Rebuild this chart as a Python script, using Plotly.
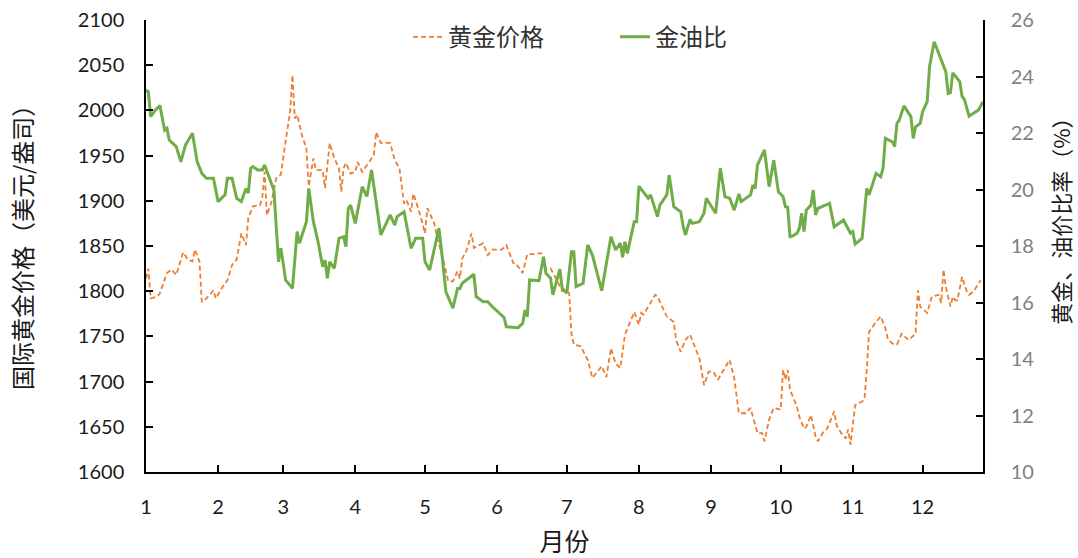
import plotly.graph_objects as go

# Gold spot price, USD per ounce
gold_dates = [
    "2022-01-01", "2022-01-02", "2022-01-03", "2022-01-06", "2022-01-07", "2022-01-10",
    "2022-01-12", "2022-01-14", "2022-01-17", "2022-01-19", "2022-01-21", "2022-01-22",
    "2022-01-24", "2022-01-25", "2022-01-27", "2022-01-30", "2022-01-31", "2022-02-03",
    "2022-02-05", "2022-02-07", "2022-02-09", "2022-02-11", "2022-02-13", "2022-02-14",
    "2022-02-16", "2022-02-19", "2022-02-20", "2022-02-21", "2022-02-22", "2022-02-24",
    "2022-02-26", "2022-02-28", "2022-03-02", "2022-03-04", "2022-03-05", "2022-03-06",
    "2022-03-07", "2022-03-09", "2022-03-11", "2022-03-12", "2022-03-14", "2022-03-15",
    "2022-03-18", "2022-03-19", "2022-03-21", "2022-03-23", "2022-03-25", "2022-03-26",
    "2022-03-27", "2022-03-28", "2022-03-30", "2022-04-01", "2022-04-02", "2022-04-04",
    "2022-04-07", "2022-04-09", "2022-04-10", "2022-04-12", "2022-04-16", "2022-04-18",
    "2022-04-20", "2022-04-22", "2022-04-23", "2022-04-25", "2022-04-26", "2022-04-29",
    "2022-05-01", "2022-05-02", "2022-05-05", "2022-05-06", "2022-05-09", "2022-05-11",
    "2022-05-13", "2022-05-15", "2022-05-16", "2022-05-17", "2022-05-19", "2022-05-21",
    "2022-05-22", "2022-05-26", "2022-05-28", "2022-05-30", "2022-06-03", "2022-06-05",
    "2022-06-08", "2022-06-09", "2022-06-12", "2022-06-14", "2022-06-17", "2022-06-20",
    "2022-06-22", "2022-06-24", "2022-06-27", "2022-06-29", "2022-06-30", "2022-07-02",
    "2022-07-03", "2022-07-04", "2022-07-07", "2022-07-10", "2022-07-12", "2022-07-14",
    "2022-07-16", "2022-07-18", "2022-07-20", "2022-07-22", "2022-07-24", "2022-07-26",
    "2022-07-28", "2022-07-30", "2022-08-01", "2022-08-02", "2022-08-03", "2022-08-06",
    "2022-08-08", "2022-08-09", "2022-08-13", "2022-08-16", "2022-08-17", "2022-08-19",
    "2022-08-21", "2022-08-23", "2022-08-25", "2022-08-27", "2022-08-29", "2022-08-31",
    "2022-09-02", "2022-09-04", "2022-09-06", "2022-09-09", "2022-09-11", "2022-09-13",
    "2022-09-16", "2022-09-18", "2022-09-21", "2022-09-23", "2022-09-24", "2022-09-26",
    "2022-09-28", "2022-10-01", "2022-10-02", "2022-10-03", "2022-10-04", "2022-10-05",
    "2022-10-08", "2022-10-09", "2022-10-11", "2022-10-12", "2022-10-14", "2022-10-16",
    "2022-10-17", "2022-10-19", "2022-10-21", "2022-10-24", "2022-10-25", "2022-10-27",
    "2022-10-29", "2022-10-30", "2022-10-31", "2022-11-02", "2022-11-05", "2022-11-06",
    "2022-11-07", "2022-11-08", "2022-11-11", "2022-11-13", "2022-11-15", "2022-11-16",
    "2022-11-18", "2022-11-20", "2022-11-22", "2022-11-24", "2022-11-25", "2022-11-28",
    "2022-11-29", "2022-11-30", "2022-12-03", "2022-12-05", "2022-12-08", "2022-12-09",
    "2022-12-10", "2022-12-11", "2022-12-13", "2022-12-14", "2022-12-15", "2022-12-16",
    "2022-12-18", "2022-12-20", "2022-12-21", "2022-12-23", "2022-12-26",
]
gold_price = [
    1814, 1825, 1792, 1794, 1798, 1820,
    1824, 1818, 1843, 1835, 1833, 1846,
    1833, 1788, 1792, 1801, 1792, 1805,
    1812, 1829, 1835, 1864, 1851, 1881,
    1894, 1895, 1903, 1932, 1884, 1899,
    1925, 1929, 1965, 1999, 2039, 1991,
    1995, 1973, 1958, 1916, 1947, 1934,
    1934, 1914, 1964, 1947, 1936, 1910,
    1936, 1942, 1930, 1932, 1943, 1932,
    1943, 1951, 1976, 1964, 1964, 1945,
    1936, 1897, 1901, 1888, 1908, 1884,
    1864, 1892, 1875, 1862, 1833, 1811,
    1811, 1822, 1814, 1836, 1846, 1864,
    1848, 1853, 1840, 1846, 1846, 1851,
    1831, 1831, 1820, 1841, 1841, 1842,
    1825, 1825, 1811, 1800, 1801, 1798,
    1753, 1741, 1739, 1724, 1704, 1711,
    1717, 1705, 1737, 1720, 1715, 1752,
    1765, 1777, 1763, 1776, 1774, 1788,
    1796, 1794, 1772, 1766, 1746, 1733,
    1746, 1752, 1739, 1726, 1696, 1711,
    1711, 1702, 1711, 1724, 1704, 1665,
    1665, 1671, 1643, 1643, 1634, 1658,
    1671, 1669, 1713, 1702, 1713, 1691,
    1672, 1661, 1648, 1650, 1663, 1639,
    1634, 1643, 1648, 1667, 1652, 1643,
    1637, 1647, 1630, 1674, 1678, 1680,
    1713, 1755, 1766, 1772, 1759, 1748,
    1742, 1741, 1753, 1748, 1746, 1753,
    1801, 1783, 1776, 1794, 1796, 1787,
    1824, 1805, 1783, 1794, 1790, 1790,
    1816, 1800, 1796, 1800, 1812,
]

# Gold-to-oil price ratio
ratio_dates = [
    "2022-01-01", "2022-01-02", "2022-01-03", "2022-01-05", "2022-01-07", "2022-01-09",
    "2022-01-10", "2022-01-11", "2022-01-14", "2022-01-16", "2022-01-18", "2022-01-21",
    "2022-01-23", "2022-01-25", "2022-01-27", "2022-01-30", "2022-02-01", "2022-02-04",
    "2022-02-05", "2022-02-07", "2022-02-09", "2022-02-11", "2022-02-13", "2022-02-14",
    "2022-02-15", "2022-02-16", "2022-02-18", "2022-02-20", "2022-02-21", "2022-02-23",
    "2022-02-25", "2022-02-27", "2022-02-28", "2022-03-01", "2022-03-02", "2022-03-05",
    "2022-03-07", "2022-03-08", "2022-03-11", "2022-03-12", "2022-03-14", "2022-03-16",
    "2022-03-18", "2022-03-19", "2022-03-20", "2022-03-21", "2022-03-23", "2022-03-25",
    "2022-03-27", "2022-03-28", "2022-03-29", "2022-03-30", "2022-04-01", "2022-04-04",
    "2022-04-06", "2022-04-08", "2022-04-10", "2022-04-12", "2022-04-16", "2022-04-18",
    "2022-04-19", "2022-04-22", "2022-04-25", "2022-04-27", "2022-04-30", "2022-05-01",
    "2022-05-03", "2022-05-07", "2022-05-08", "2022-05-10", "2022-05-13", "2022-05-15",
    "2022-05-16", "2022-05-17", "2022-05-22", "2022-05-23", "2022-05-26", "2022-05-28",
    "2022-05-30", "2022-06-04", "2022-06-05", "2022-06-10", "2022-06-12", "2022-06-13",
    "2022-06-14", "2022-06-15", "2022-06-19", "2022-06-21", "2022-06-22", "2022-06-24",
    "2022-06-25", "2022-06-28", "2022-06-29", "2022-07-01", "2022-07-03", "2022-07-04",
    "2022-07-05", "2022-07-08", "2022-07-10", "2022-07-12", "2022-07-16", "2022-07-20",
    "2022-07-22", "2022-07-24", "2022-07-25", "2022-07-26", "2022-07-27", "2022-07-30",
    "2022-07-31", "2022-08-01", "2022-08-05", "2022-08-06", "2022-08-09", "2022-08-10",
    "2022-08-13", "2022-08-14", "2022-08-16", "2022-08-19", "2022-08-20", "2022-08-21",
    "2022-08-23", "2022-08-24", "2022-08-27", "2022-08-29", "2022-08-30", "2022-09-03",
    "2022-09-05", "2022-09-07", "2022-09-09", "2022-09-11", "2022-09-13", "2022-09-14",
    "2022-09-18", "2022-09-19", "2022-09-20", "2022-09-21", "2022-09-24", "2022-09-26",
    "2022-09-28", "2022-09-30", "2022-10-02", "2022-10-03", "2022-10-04", "2022-10-05",
    "2022-10-06", "2022-10-08", "2022-10-09", "2022-10-10", "2022-10-11", "2022-10-12",
    "2022-10-14", "2022-10-15", "2022-10-16", "2022-10-17", "2022-10-22", "2022-10-24",
    "2022-10-28", "2022-10-31", "2022-11-01", "2022-11-02", "2022-11-05", "2022-11-07",
    "2022-11-08", "2022-11-11", "2022-11-13", "2022-11-14", "2022-11-15", "2022-11-18",
    "2022-11-19", "2022-11-20", "2022-11-21", "2022-11-23", "2022-11-26", "2022-11-27",
    "2022-11-28", "2022-11-30", "2022-12-01", "2022-12-03", "2022-12-04", "2022-12-06",
    "2022-12-11", "2022-12-12", "2022-12-13", "2022-12-14", "2022-12-17", "2022-12-18",
    "2022-12-19", "2022-12-21", "2022-12-25", "2022-12-27",
]
gold_oil_ratio = [
    23.52, 23.46, 22.58, 22.81, 22.97, 22.10,
    22.17, 21.75, 21.52, 20.98, 21.58, 21.99,
    20.98, 20.57, 20.40, 20.40, 19.57, 19.81,
    20.40, 20.40, 19.69, 19.57, 20.04, 19.87,
    20.75, 20.81, 20.69, 20.69, 20.87, 20.40,
    19.98, 17.44, 17.92, 17.39, 16.80, 16.50,
    18.51, 18.10, 18.86, 20.04, 18.86, 18.15,
    17.27, 17.50, 16.86, 17.44, 17.21, 18.27,
    18.33, 17.98, 19.33, 19.45, 18.80, 20.10,
    19.75, 20.69, 19.45, 18.39, 19.10, 18.74,
    19.04, 19.21, 17.92, 18.27, 18.27, 17.44,
    17.15, 18.63, 17.92, 16.38, 15.80, 16.50,
    16.50, 16.68, 17.00, 16.21, 16.03, 16.03,
    15.85, 15.47, 15.14, 15.11, 15.26, 15.73,
    15.50, 16.80, 16.77, 17.62, 17.03, 16.86,
    16.27, 17.18, 16.50, 16.33, 17.80, 17.80,
    16.56, 16.68, 18.04, 17.68, 16.42, 18.33,
    17.86, 18.10, 17.60, 18.15, 17.74, 18.86,
    18.86, 20.12, 19.69, 19.81, 19.04, 19.45,
    19.81, 20.51, 19.39, 19.21, 18.71, 18.39,
    18.94, 18.80, 18.86, 19.16, 19.69, 19.16,
    20.75, 19.75, 19.69, 19.27, 19.84, 19.57,
    19.81, 20.16, 20.04, 20.87, 21.40, 20.10,
    21.04, 19.92, 19.75, 19.39, 19.37, 18.33,
    18.35, 18.45, 18.63, 19.16, 18.51, 19.27,
    19.45, 19.98, 19.10, 19.33, 19.51, 18.68,
    18.92, 18.45, 18.51, 18.07, 18.27, 20.04,
    19.81, 20.57, 20.45, 20.75, 21.81, 21.69,
    21.52, 22.34, 22.46, 22.96, 22.58, 21.81,
    22.22, 22.34, 22.75, 23.11, 24.35, 25.23,
    24.17, 23.40, 23.43, 24.13, 23.82, 23.29,
    23.19, 22.60, 22.81, 23.11,
]

month_starts = [f"2022-{m:02d}-01" for m in range(1, 13)]
month_labels = [str(m) for m in range(1, 13)]

GOLD_COLOR = "#ED7D31"
RATIO_COLOR = "#70AD47"
FONT = "Lato, 'Noto Sans CJK SC', sans-serif"
CJK = "'Noto Sans CJK SC', sans-serif"

fig = go.Figure()
fig.add_trace(go.Scatter(
    x=gold_dates, y=gold_price, name="黄金价格", mode="lines",
    line=dict(color=GOLD_COLOR, width=1.8, dash="5px,3px"),
    yaxis="y",
))
fig.add_trace(go.Scatter(
    x=ratio_dates, y=gold_oil_ratio, name="金油比", mode="lines",
    line=dict(color=RATIO_COLOR, width=3),
    yaxis="y2",
))

axis_common = dict(
    showline=True, linecolor="black", linewidth=1.5,
    ticks="inside", ticklen=7, tickwidth=1.5, tickcolor="black",
    showgrid=False, zeroline=False, automargin=False,
)

fig.update_layout(
    width=1078, height=558,
    margin=dict(l=146, r=95, t=20, b=86),
    paper_bgcolor="white", plot_bgcolor="white",
    font=dict(family=FONT, size=20, color="#1a1a1a"),
    showlegend=True,
    legend=dict(
        orientation="h", x=0.313, xanchor="left", y=0.962, yanchor="middle",
        font=dict(family=CJK, size=24, color="#333333"),
        bgcolor="rgba(0,0,0,0)", entrywidth=162,
    ),
    xaxis=dict(
        type="date", range=["2022-01-01", "2022-12-27"],
        tickmode="array", tickvals=month_starts, ticktext=month_labels,
        tickfont=dict(size=20, color="#1a1a1a"),
        ticklabelstandoff=16,
        title=dict(text="月份", font=dict(family=CJK, size=25, color="#1a1a1a"), standoff=18),
        **axis_common,
    ),
    yaxis=dict(
        range=[1600, 2100], tickmode="linear", tick0=1600, dtick=50,
        tickfont=dict(size=20, color="#1a1a1a"),
        ticklabelstandoff=16,
        **axis_common,
    ),
    yaxis2=dict(
        overlaying="y", side="right",
        range=[10, 26], tickmode="linear", tick0=10, dtick=2,
        tickfont=dict(size=20, color="#7f7f7f"),
        ticklabelstandoff=22,
        **axis_common,
    ),
    annotations=[
        # left axis title
        dict(text="国际黄金价格（美元/盎司）", textangle=-90, showarrow=False,
             xref="paper", yref="paper", x=-0.148, y=0.509,
             xanchor="center", yanchor="middle",
             font=dict(family=CJK, size=24, color="#1a1a1a")),
        # right axis title
        dict(text="黄金、油价比率（%）", textangle=-90, showarrow=False,
             xref="paper", yref="paper", x=1.0926, y=0.566,
             xanchor="center", yanchor="middle",
             font=dict(family=CJK, size=22, color="#1a1a1a")),
    ],
)

fig.write_html("out.html")
